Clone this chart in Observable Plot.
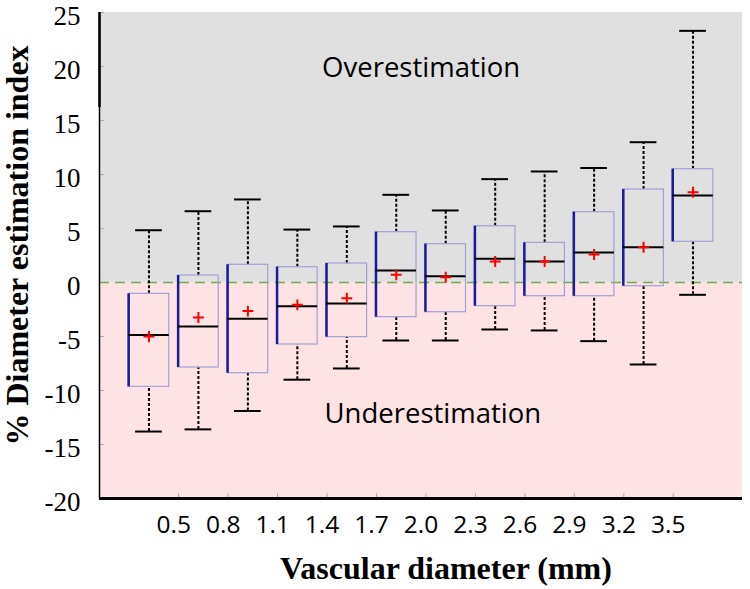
<!DOCTYPE html>
<html>
<head>
<meta charset="utf-8">
<script src="https://cdn.jsdelivr.net/npm/d3@7"></script>
<script src="https://cdn.jsdelivr.net/npm/@observablehq/plot@0.6"></script>
<style>
  html, body { margin: 0; padding: 0; background: #fff; }
  #chart svg { display: block; }
</style>
</head>
<body>
<div id="chart"></div>
<script>
// ---- data ----
const xTickLabels = ["0.5","0.8","1.1","1.4","1.7","2.0","2.3","2.6","2.9","3.2","3.5"];
const whiskerHigh = [4.84, 6.6, 7.69, 4.9, 5.19, 8.12, 6.67, 9.57, 10.28, 10.6, 12.99, 23.3];
const q3          = [-1.05, 0.65, 1.64, 1.42, 1.76, 4.66, 3.55, 5.21, 3.67, 6.51, 8.61, 10.49];
const median      = [-4.85, -4.07, -3.36, -2.19, -1.94, 1.11, 0.58, 2.19, 1.94, 2.78, 3.27, 8.06];
const mean        = [-5.0, -3.24, -2.65, -2.07, -1.45, 0.71, 0.49, 1.94, 1.94, 2.59, 3.27, 8.36];
const q1          = [-9.66, -7.87, -8.4, -5.74, -5.06, -3.21, -2.75, -2.19, -1.27, -1.27, -0.34, 3.77];
const whiskerLow  = [-13.8, -13.6, -11.9, -9.0, -7.96, -5.37, -5.37, -4.35, -4.44, -5.43, -7.59, -1.14];
const yTicks = [-20, -15, -10, -5, 0, 5, 10, 15, 20, 25];
const regionLabels = [
  {text: "Overestimation", x: 4.5, y: 19.8},
  {text: "Underestimation", x: 4.55, y: -12.2}
];
const yLabel = "% Diameter estimation index";
const xLabel = "Vascular diameter (mm)";

// ---- derived tables ----
const rows = median.map((m, i) => ({
  pos: i + 1, lo: whiskerLow[i], q1: q1[i], med: m, q3: q3[i], hi: whiskerHigh[i], mean: mean[i]
}));
const xTicks = xTickLabels.map((label, i) => ({pos: i + 1.5, label}));
const xDomain = [0, rows.length + 1];
const yDomain = [-20, 25];
const halfBox = 0.41, halfCap = 0.27;

const chart = Plot.plot({
  width: 750,
  height: 589,
  marginLeft: 99,
  marginRight: 8,
  marginTop: 12,
  marginBottom: 91,
  style: {background: "#fff", color: "#000"},
  x: {domain: xDomain},
  y: {domain: yDomain},
  marks: [
    // background regions
    Plot.rect([{y1: 0, y2: yDomain[1]}], {x1: xDomain[0], x2: xDomain[1], y1: "y1", y2: "y2", fill: "#e0e0e0"}),
    Plot.rect([{y1: yDomain[0], y2: 0}], {x1: xDomain[0], x2: xDomain[1], y1: "y1", y2: "y2", fill: "#fde3e4"}),
    // inner tick marks
    Plot.ruleY(yTicks, {x1: xDomain[0], x2: xDomain[0] + 0.1, stroke: "#aaa", strokeWidth: 1}),
    Plot.ruleX(xTicks, {x: d => d.pos + 0.1, y1: yDomain[0], y2: yDomain[0] + 0.45, stroke: "#aaa", strokeWidth: 1}),
    // zero reference line
    Plot.ruleY([0], {stroke: "#70ad47", strokeWidth: 1.6, strokeDasharray: "10,6"}),
    // whiskers
    Plot.ruleX(rows, {x: "pos", y1: "q3", y2: "hi", stroke: "#000", strokeWidth: 2, strokeDasharray: "3,2"}),
    Plot.ruleX(rows, {x: "pos", y1: "lo", y2: "q1", stroke: "#000", strokeWidth: 2, strokeDasharray: "3,2"}),
    Plot.ruleY(rows, {y: "hi", x1: d => d.pos - halfCap, x2: d => d.pos + halfCap, stroke: "#000", strokeWidth: 2}),
    Plot.ruleY(rows, {y: "lo", x1: d => d.pos - halfCap, x2: d => d.pos + halfCap, stroke: "#000", strokeWidth: 2}),
    // boxes
    Plot.rect(rows, {x1: d => d.pos - halfBox, x2: d => d.pos + halfBox, y1: "q1", y2: "q3", fill: "none", stroke: "#a0a0d8", strokeWidth: 1.2}),
    Plot.ruleX(rows, {x: d => d.pos - halfBox, y1: "q1", y2: "q3", stroke: "#1a1a9c", strokeWidth: 2.5}),
    // median
    Plot.ruleY(rows, {y: "med", x1: d => d.pos - halfBox, x2: d => d.pos + halfBox, stroke: "#000", strokeWidth: 2}),
    // mean
    Plot.dot(rows, {x: "pos", y: "mean", symbol: "plus", r: 3.6, stroke: "#ff0000", strokeWidth: 2}),
    // axis lines
    Plot.ruleX([xDomain[0]], {y1: yDomain[0], y2: yDomain[1], stroke: "#000", strokeWidth: 1.5}),
    Plot.ruleX([xDomain[0]], {y1: 16.2, y2: yDomain[1], stroke: "#000", strokeWidth: 2.5}),
    Plot.ruleY([yDomain[0]], {x1: xDomain[0], x2: xDomain[1], stroke: "#000", strokeWidth: 3}),
    // region annotations
    Plot.text(regionLabels, {x: "x", y: "y", text: "text", textAnchor: "start", lineAnchor: "middle",
      fontSize: 27.5, fontFamily: "Open Sans", fill: "#000"}),
    // axes
    Plot.axisY(yTicks, {tickSize: 0, tickPadding: 19, fontSize: 27, fontFamily: "Liberation Serif", dy: 4,
      tickFormat: d => String(d), label: null}),
    Plot.axisX(xTicks.map(d => d.pos), {tickSize: 0, tickPadding: 17, fontSize: 24.5, fontFamily: "Open Sans",
      tickFormat: (d, i) => xTickLabels[i], label: null}),
    // axis titles
    Plot.text([yLabel], {frameAnchor: "left", dx: -82, dy: -10, rotate: -90, text: d => d, textAnchor: "middle",
      lineAnchor: "middle", fontSize: 32, fontWeight: "bold", fontFamily: "Liberation Serif", fill: "#000"}),
    Plot.text([xLabel], {frameAnchor: "bottom", dx: 25, dy: 70, text: d => d, textAnchor: "middle",
      lineAnchor: "middle", fontSize: 32, fontWeight: "bold", fontFamily: "Liberation Serif", fill: "#000"})
  ]
});
document.getElementById("chart").appendChild(chart);
</script>
</body>
</html>
